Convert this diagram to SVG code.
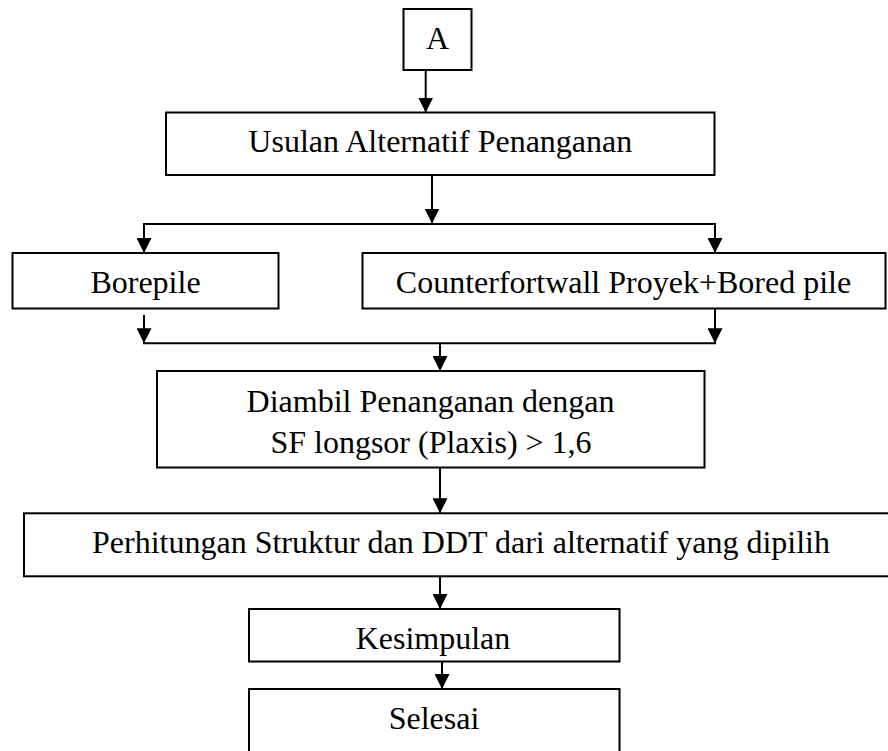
<svg xmlns="http://www.w3.org/2000/svg" width="888" height="751" viewBox="0 0 888 751">
  <style>
    .box { fill: #ffffff; stroke: #000000; stroke-width: 2; }
    .lbl { font-family: "Liberation Serif", "Times New Roman", serif; font-size: 32px; fill: #000000; text-anchor: middle; }
    .conn { fill: none; stroke: #000000; stroke-width: 2; }
    .arr { marker-end: url(#ah); }
  </style>
  <defs>
    <marker id="ah" markerUnits="userSpaceOnUse" markerWidth="15" markerHeight="15" viewBox="0 0 15 15" refX="15" refY="7.5" orient="auto">
      <path d="M0,0 L15,7.5 L0,15 z" fill="#000000"/>
    </marker>
  </defs>
  <rect x="0" y="0" width="888" height="751" fill="#ffffff"/>

  <g id="connectors">
    <line class="conn arr" x1="425.7" y1="70" x2="425.7" y2="112.5"/>
    <line class="conn arr" x1="432" y1="175" x2="432" y2="223.5"/>
    <line class="conn" x1="143" y1="224" x2="716" y2="224"/>
    <line class="conn arr" x1="144" y1="224" x2="144" y2="253"/>
    <line class="conn arr" x1="715" y1="224" x2="715" y2="253"/>
    <line class="conn arr" x1="144" y1="315" x2="144" y2="343.3"/>
    <line class="conn arr" x1="715" y1="308.5" x2="715" y2="343.3"/>
    <line class="conn" x1="143" y1="343.3" x2="716" y2="343.3"/>
    <line class="conn arr" x1="440" y1="343.3" x2="440" y2="371"/>
    <line class="conn arr" x1="440" y1="467.5" x2="440" y2="513.3"/>
    <line class="conn arr" x1="440" y1="576.3" x2="440" y2="609"/>
    <line class="conn arr" x1="442" y1="655" x2="442" y2="689"/>
  </g>

  <g id="node-a">
    <rect class="box" x="403.5" y="9" width="68" height="61"/>
    <text class="lbl" x="437.5" y="48.5">A</text>
  </g>
  <g id="node-usulan">
    <rect class="box" x="166" y="112.5" width="548.5" height="62.5"/>
    <text class="lbl" x="440.3" y="151.7">Usulan Alternatif Penanganan</text>
  </g>
  <g id="node-borepile">
    <rect class="box" x="12.5" y="253" width="266" height="55.5"/>
    <text class="lbl" x="145.5" y="293">Borepile</text>
  </g>
  <g id="node-counterfort">
    <rect class="box" x="362.5" y="253" width="523" height="55.5"/>
    <text class="lbl" x="623.5" y="292.7">Counterfortwall Proyek+Bored pile</text>
  </g>
  <g id="node-diambil">
    <rect class="box" x="157" y="371" width="547.5" height="96.5"/>
    <text class="lbl" x="430.5" y="411.5">Diambil Penanganan dengan</text>
    <text class="lbl" x="431" y="453">SF longsor (Plaxis) &gt; 1,6</text>
  </g>
  <g id="node-perhitungan">
    <rect class="box" x="24" y="513.3" width="880" height="63"/>
    <text class="lbl" x="461" y="553">Perhitungan Struktur dan DDT dari alternatif yang dipilih</text>
  </g>
  <g id="node-kesimpulan">
    <rect class="box" x="249" y="609" width="370.5" height="52.5"/>
    <text class="lbl" x="433" y="649">Kesimpulan</text>
  </g>
  <g id="node-selesai">
    <rect class="box" x="249" y="689" width="370.5" height="80"/>
    <text class="lbl" x="434" y="729">Selesai</text>
  </g>
</svg>
